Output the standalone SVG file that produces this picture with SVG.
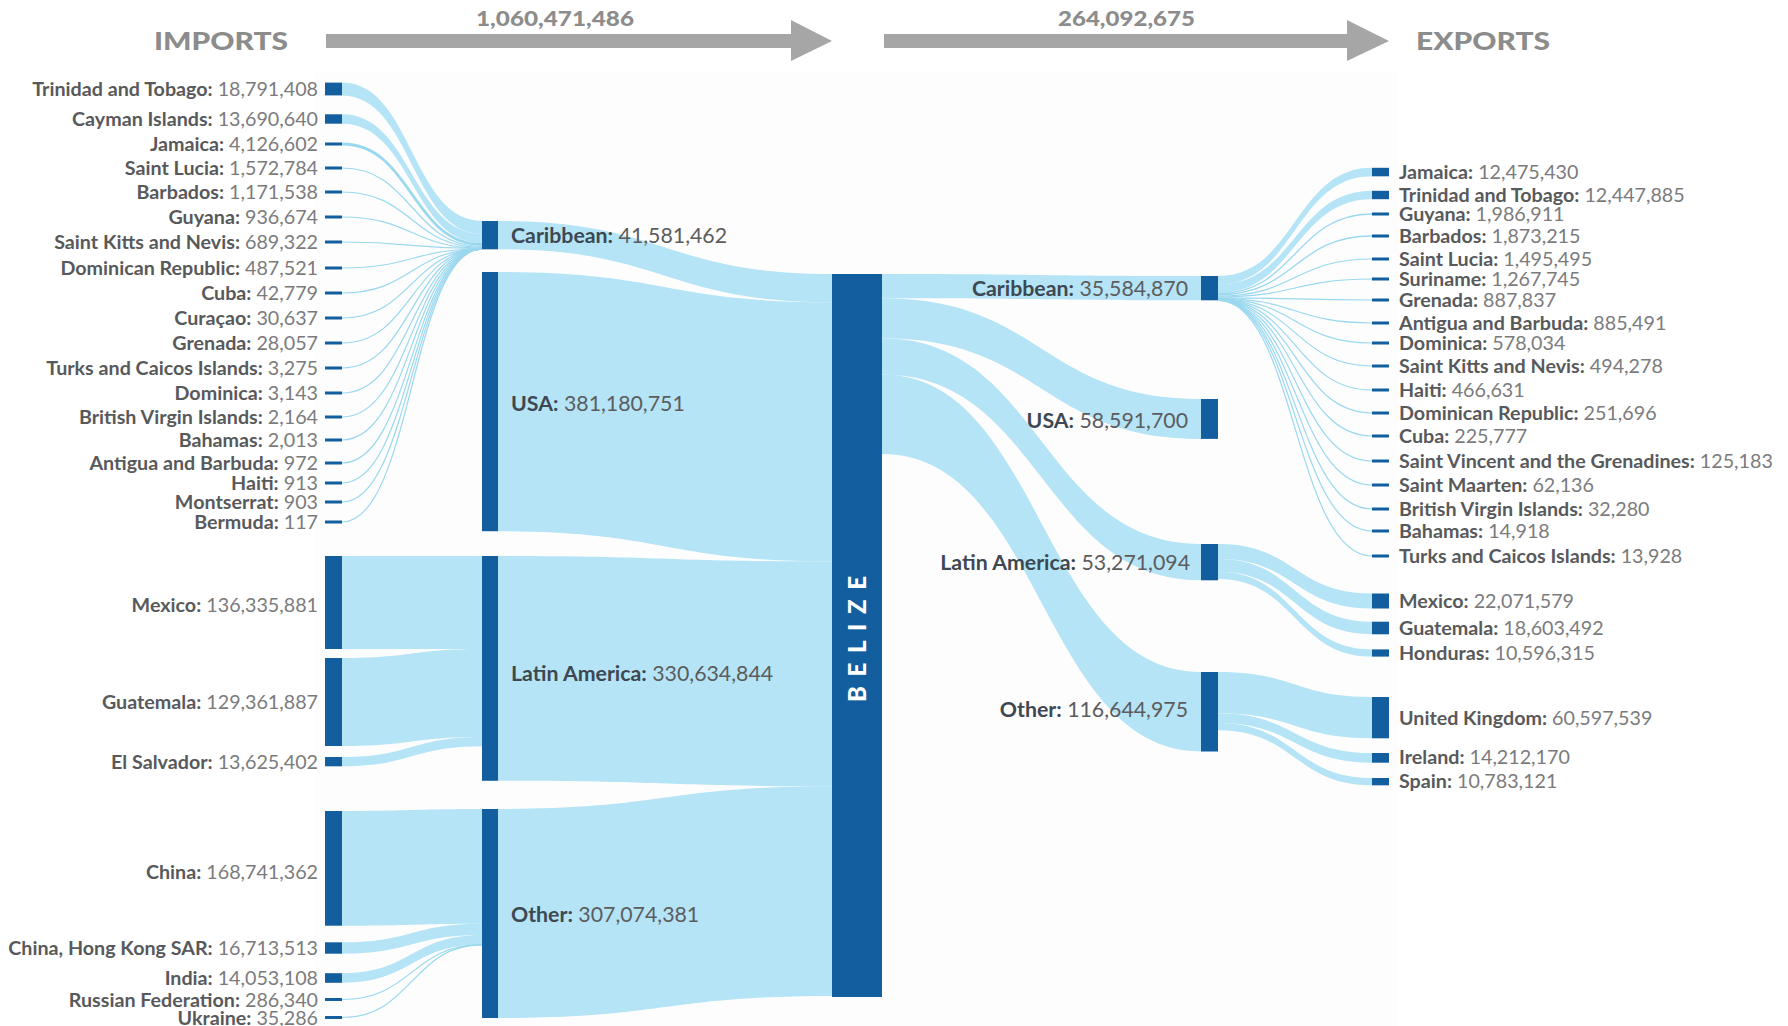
<svg xmlns="http://www.w3.org/2000/svg" width="1788" height="1026" viewBox="0 0 1788 1026">
<style>
.bar{fill:#135e9f}
.flow{fill:#b4e4f5}
.thin{fill:none;stroke:#9ad8ef;stroke-width:1.2}
.hdr{font-family:Lato,"Noto Sans",sans-serif;font-weight:900;fill:#8c8c8c}
.arr{fill:#a6a6a6}
.l{font-family:Lato,"Noto Sans",sans-serif;font-size:19.7px;fill:#7b7b7d;text-anchor:end}
.r{font-family:Lato,"Noto Sans",sans-serif;font-size:19.7px;fill:#7b7b7d;text-anchor:start}
.b{font-weight:700;fill:#58595b}
.m{font-family:Lato,"Noto Sans",sans-serif;font-size:21.3px;fill:#5c5c5e}
.mb{font-weight:700;fill:#3d4852}
.belize{font-family:Lato,"Noto Sans",sans-serif;font-weight:900;font-size:24px;fill:#ffffff}
</style>
<rect x="0" y="0" width="1788" height="1026" fill="#ffffff"/>
<rect x="315" y="72" width="1083" height="954" fill="#fdfdfd"/>

<g id="header">
<text class="hdr" x="154" y="50" font-size="25" textLength="134" lengthAdjust="spacingAndGlyphs">IMPORTS</text>
<polygon class="arr" points="326,34 791,34 791,20 832,41 791,61 791,48 326,48"/>
<text class="hdr" x="476" y="26" font-size="20" textLength="158" lengthAdjust="spacingAndGlyphs">1,060,471,486</text>
<polygon class="arr" points="884,34 1347,34 1347,20 1389,41 1347,61 1347,48 884,48"/>
<text class="hdr" x="1058" y="26" font-size="20" textLength="137" lengthAdjust="spacingAndGlyphs">264,092,675</text>
<text class="hdr" x="1416" y="50" font-size="25" textLength="134" lengthAdjust="spacingAndGlyphs">EXPORTS</text>
</g>

<g id="connectors">
<!-- import countries to Caribbean -->
<path class="flow" d="M342,82.6C412,82.6 412,221 482,221L482,233.8C412,233.8 412,95.4 342,95.4Z"/>
<path class="flow" d="M342,114.3C412,114.3 412,233.8 482,233.8L482,243.1C412,243.1 412,123.7 342,123.7Z"/>
<path class="thin" style="stroke-width:2.8" d="M342,144C412,144 412,244.5 482,244.5"/>
<path class="thin" d="M342,168C412,168 412,246.5 482,246.5"/>
<path class="thin" d="M342,192C412,192 412,247.4 482,247.4"/>
<path class="thin" d="M342,217C412,217 412,248.1 482,248.1"/>
<path class="thin" d="M342,242C412,242 412,248.6 482,248.6"/>
<path class="thin" d="M342,268C412,268 412,249 482,249"/>
<path class="thin" d="M342,293C412,293 412,249.2 482,249.2"/>
<path class="thin" d="M342,318C412,318 412,249.2 482,249.2"/>
<path class="thin" d="M342,343C412,343 412,249.2 482,249.2"/>
<path class="thin" d="M342,368C412,368 412,249.2 482,249.2"/>
<path class="thin" d="M342,393C412,393 412,249.2 482,249.2"/>
<path class="thin" d="M342,417C412,417 412,249.2 482,249.2"/>
<path class="thin" d="M342,440C412,440 412,249.2 482,249.2"/>
<path class="thin" d="M342,463C412,463 412,249.2 482,249.2"/>
<path class="thin" d="M342,483C412,483 412,249.2 482,249.2"/>
<path class="thin" d="M342,502C412,502 412,249.2 482,249.2"/>
<path class="thin" d="M342,522C412,522 412,249.2 482,249.2"/>
<!-- Latin America imports -->
<path class="flow" d="M342,556L482,556L482,649L342,649Z"/>
<path class="flow" d="M342,658C412,658 412,649 482,649L482,737C412,737 412,746 342,746Z"/>
<path class="flow" d="M342,757C412,757 412,737 482,737L482,746.3C412,746.3 412,766.3 342,766.3Z"/>
<!-- Other imports -->
<path class="flow" d="M342,811C412,811 412,809 482,809L482,923.7C412,923.7 412,925.7 342,925.7Z"/>
<path class="flow" d="M342,942.3C412,942.3 412,923.7 482,923.7L482,935.1C412,935.1 412,953.7 342,953.7Z"/>
<path class="flow" d="M342,973.2C412,973.2 412,935.1 482,935.1L482,944.6C412,944.6 412,982.8 342,982.8Z"/>
<path class="thin" d="M342,999.5C412,999.5 412,944.7 482,944.7"/>
<path class="thin" d="M342,1017.5C412,1017.5 412,944.8 482,944.8"/>
<!-- regions to Belize -->
<path class="flow" d="M498,221C665,221 665,274 832,274L832,302.3C665,302.3 665,249.3 498,249.3Z"/>
<path class="flow" d="M498,272C665,272 665,302.3 832,302.3L832,561.5C665,561.5 665,531.2 498,531.2Z"/>
<path class="flow" d="M498,556C665,556 665,561.5 832,561.5L832,786.3C665,786.3 665,780.8 498,780.8Z"/>
<path class="flow" d="M498,809C665,809 665,786.3 832,786.3L832,996C665,996 665,1018 498,1018Z"/>
<!-- Belize to export regions -->
<path class="flow" d="M882,274C1041.5,274 1041.5,276 1201,276L1201,300.3C1041.5,300.3 1041.5,298.3 882,298.3Z"/>
<path class="flow" d="M882,298.3C1041.5,298.3 1041.5,399 1201,399L1201,438.9C1041.5,438.9 1041.5,338.2 882,338.2Z"/>
<path class="flow" d="M882,338.2C1041.5,338.2 1041.5,544 1201,544L1201,580.3C1041.5,580.3 1041.5,374.5 882,374.5Z"/>
<path class="flow" d="M882,374.5C1041.5,374.5 1041.5,672 1201,672L1201,751.5C1041.5,751.5 1041.5,454 882,454Z"/>
<!-- Caribbean exports -->
<path class="flow" d="M1218,276C1295,276 1295,167.8 1372,167.8L1372,176.3C1295,176.3 1295,284.5 1218,284.5Z"/>
<path class="flow" d="M1218,284.5C1295,284.5 1295,190.8 1372,190.8L1372,199.2C1295,199.2 1295,293 1218,293Z"/>
<path class="thin" style="stroke-width:1.35" d="M1218,293.7C1295,293.7 1295,214 1372,214"/>
<path class="thin" style="stroke-width:1.3" d="M1218,294.9C1295,294.9 1295,236 1372,236"/>
<path class="thin" d="M1218,296.1C1295,296.1 1295,259 1372,259"/>
<path class="thin" d="M1218,297C1295,297 1295,279 1372,279"/>
<path class="thin" d="M1218,297.8C1295,297.8 1295,300 1372,300"/>
<path class="thin" d="M1218,298.4C1295,298.4 1295,323 1372,323"/>
<path class="thin" d="M1218,298.9C1295,298.9 1295,343 1372,343"/>
<path class="thin" d="M1218,299.3C1295,299.3 1295,366 1372,366"/>
<path class="thin" d="M1218,299.6C1295,299.6 1295,390 1372,390"/>
<path class="thin" d="M1218,299.8C1295,299.8 1295,413 1372,413"/>
<path class="thin" d="M1218,300C1295,300 1295,436 1372,436"/>
<path class="thin" d="M1218,300.1C1295,300.1 1295,461 1372,461"/>
<path class="thin" d="M1218,300.2C1295,300.2 1295,485 1372,485"/>
<path class="thin" d="M1218,300.2C1295,300.2 1295,509 1372,509"/>
<path class="thin" d="M1218,300.2C1295,300.2 1295,531 1372,531"/>
<path class="thin" d="M1218,300.3C1295,300.3 1295,556 1372,556"/>
<!-- Latin America exports -->
<path class="flow" d="M1218,544C1295,544 1295,593.5 1372,593.5L1372,608.5C1295,608.5 1295,559 1218,559Z"/>
<path class="flow" d="M1218,559C1295,559 1295,621.7 1372,621.7L1372,634.3C1295,634.3 1295,571.7 1218,571.7Z"/>
<path class="flow" d="M1218,571.7C1295,571.7 1295,649.4 1372,649.4L1372,656.6C1295,656.6 1295,578.9 1218,578.9Z"/>
<!-- Other exports -->
<path class="flow" d="M1218,672C1295,672 1295,697 1372,697L1372,738.3C1295,738.3 1295,713.3 1218,713.3Z"/>
<path class="flow" d="M1218,713.3C1295,713.3 1295,753 1372,753L1372,762.7C1295,762.7 1295,723 1218,723Z"/>
<path class="flow" d="M1218,723C1295,723 1295,778 1372,778L1372,785.3C1295,785.3 1295,730.3 1218,730.3Z"/>
</g>

<!-- import countries -->
<g id="imp-trinidad"><rect class="bar" x="325" y="82.6" width="17" height="12.8"/><text class="l" x="318" y="96"><tspan class="b">Trinidad and Tobago:</tspan> 18,791,408</text></g>
<g id="imp-cayman"><rect class="bar" x="325" y="114.3" width="17" height="9.4"/><text class="l" x="318" y="126"><tspan class="b">Cayman Islands:</tspan> 13,690,640</text></g>
<g id="imp-jamaica"><rect class="bar" x="325" y="142.5" width="17" height="3"/><text class="l" x="318" y="151"><tspan class="b">Jamaica:</tspan> 4,126,602</text></g>
<g id="imp-saintlucia"><rect class="bar" x="325" y="166.5" width="17" height="3"/><text class="l" x="318" y="175"><tspan class="b">Saint Lucia:</tspan> 1,572,784</text></g>
<g id="imp-barbados"><rect class="bar" x="325" y="190.5" width="17" height="3"/><text class="l" x="318" y="199"><tspan class="b">Barbados:</tspan> 1,171,538</text></g>
<g id="imp-guyana"><rect class="bar" x="325" y="215.5" width="17" height="3"/><text class="l" x="318" y="224"><tspan class="b">Guyana:</tspan> 936,674</text></g>
<g id="imp-skn"><rect class="bar" x="325" y="240.5" width="17" height="3"/><text class="l" x="318" y="249"><tspan class="b">Saint Kitts and Nevis:</tspan> 689,322</text></g>
<g id="imp-dr"><rect class="bar" x="325" y="266.5" width="17" height="3"/><text class="l" x="318" y="275"><tspan class="b">Dominican Republic:</tspan> 487,521</text></g>
<g id="imp-cuba"><rect class="bar" x="325" y="291.5" width="17" height="3"/><text class="l" x="318" y="300"><tspan class="b">Cuba:</tspan> 42,779</text></g>
<g id="imp-curacao"><rect class="bar" x="325" y="316.5" width="17" height="3"/><text class="l" x="318" y="325"><tspan class="b">Curaçao:</tspan> 30,637</text></g>
<g id="imp-grenada"><rect class="bar" x="325" y="341.5" width="17" height="3"/><text class="l" x="318" y="350"><tspan class="b">Grenada:</tspan> 28,057</text></g>
<g id="imp-turks"><rect class="bar" x="325" y="366.5" width="17" height="3"/><text class="l" x="318" y="375"><tspan class="b">Turks and Caicos Islands:</tspan> 3,275</text></g>
<g id="imp-dominica"><rect class="bar" x="325" y="391.5" width="17" height="3"/><text class="l" x="318" y="400"><tspan class="b">Dominica:</tspan> 3,143</text></g>
<g id="imp-bvi"><rect class="bar" x="325" y="415.5" width="17" height="3"/><text class="l" x="318" y="424"><tspan class="b">British Virgin Islands:</tspan> 2,164</text></g>
<g id="imp-bahamas"><rect class="bar" x="325" y="438.5" width="17" height="3"/><text class="l" x="318" y="447"><tspan class="b">Bahamas:</tspan> 2,013</text></g>
<g id="imp-antigua"><rect class="bar" x="325" y="461.5" width="17" height="3"/><text class="l" x="318" y="470"><tspan class="b">Antigua and Barbuda:</tspan> 972</text></g>
<g id="imp-haiti"><rect class="bar" x="325" y="481.5" width="17" height="3"/><text class="l" x="318" y="490"><tspan class="b">Haiti:</tspan> 913</text></g>
<g id="imp-montserrat"><rect class="bar" x="325" y="500.5" width="17" height="3"/><text class="l" x="318" y="509"><tspan class="b">Montserrat:</tspan> 903</text></g>
<g id="imp-bermuda"><rect class="bar" x="325" y="520.5" width="17" height="3"/><text class="l" x="318" y="529"><tspan class="b">Bermuda:</tspan> 117</text></g>
<g id="imp-mexico"><rect class="bar" x="325" y="556" width="17" height="93"/><text class="l" x="318" y="612"><tspan class="b">Mexico:</tspan> 136,335,881</text></g>
<g id="imp-guatemala"><rect class="bar" x="325" y="658" width="17" height="88"/><text class="l" x="318" y="709"><tspan class="b">Guatemala:</tspan> 129,361,887</text></g>
<g id="imp-elsalvador"><rect class="bar" x="325" y="757" width="17" height="9.3"/><text class="l" x="318" y="769"><tspan class="b">El Salvador:</tspan> 13,625,402</text></g>
<g id="imp-china"><rect class="bar" x="325" y="811" width="17" height="114.7"/><text class="l" x="318" y="879"><tspan class="b">China:</tspan> 168,741,362</text></g>
<g id="imp-hongkong"><rect class="bar" x="325" y="942.3" width="17" height="11.4"/><text class="l" x="318" y="955"><tspan class="b">China, Hong Kong SAR:</tspan> 16,713,513</text></g>
<g id="imp-india"><rect class="bar" x="325" y="973.2" width="17" height="9.6"/><text class="l" x="318" y="985"><tspan class="b">India:</tspan> 14,053,108</text></g>
<g id="imp-russia"><rect class="bar" x="325" y="998" width="17" height="3"/><text class="l" x="318" y="1006.5"><tspan class="b">Russian Federation:</tspan> 286,340</text></g>
<g id="imp-ukraine"><rect class="bar" x="325" y="1016" width="17" height="3"/><text class="l" x="318" y="1024.5"><tspan class="b">Ukraine:</tspan> 35,286</text></g>

<!-- import regions -->
<g id="imp-region-caribbean"><rect class="bar" x="482" y="221" width="16" height="28.3"/><text class="m" x="511" y="242.5"><tspan class="mb">Caribbean:</tspan> 41,581,462</text></g>
<g id="imp-region-usa"><rect class="bar" x="482" y="272" width="16" height="259.2"/><text class="m" x="511" y="410.5"><tspan class="mb">USA:</tspan> 381,180,751</text></g>
<g id="imp-region-latam"><rect class="bar" x="482" y="556" width="16" height="224.8"/><text class="m" x="511" y="680.5"><tspan class="mb">Latin America:</tspan> 330,634,844</text></g>
<g id="imp-region-other"><rect class="bar" x="482" y="809" width="16" height="209"/><text class="m" x="511" y="921.5"><tspan class="mb">Other:</tspan> 307,074,381</text></g>

<!-- Belize -->
<g id="belize"><rect class="bar" x="832" y="274" width="50" height="723"/><text class="belize" transform="translate(866,639) rotate(-90)" text-anchor="middle" textLength="126" lengthAdjust="spacing">BELIZE</text></g>

<!-- export regions -->
<g id="exp-region-caribbean"><rect class="bar" x="1201" y="276" width="17" height="24.3"/><text class="m" x="1188" y="295.5" text-anchor="end"><tspan class="mb">Caribbean:</tspan> 35,584,870</text></g>
<g id="exp-region-usa"><rect class="bar" x="1201" y="399" width="17" height="39.9"/><text class="m" x="1188" y="427.5" text-anchor="end"><tspan class="mb">USA:</tspan> 58,591,700</text></g>
<g id="exp-region-latam"><rect class="bar" x="1201" y="544" width="17" height="36.3"/><text class="m" x="1190" y="570" text-anchor="end"><tspan class="mb">Latin America:</tspan> 53,271,094</text></g>
<g id="exp-region-other"><rect class="bar" x="1201" y="672" width="17" height="79.5"/><text class="m" x="1188" y="717" text-anchor="end"><tspan class="mb">Other:</tspan> 116,644,975</text></g>

<!-- export countries -->
<g id="exp-jamaica"><rect class="bar" x="1372" y="167.8" width="17" height="8.5"/><text class="r" x="1399" y="179"><tspan class="b">Jamaica:</tspan> 12,475,430</text></g>
<g id="exp-trinidad"><rect class="bar" x="1372" y="190.8" width="17" height="8.4"/><text class="r" x="1399" y="202"><tspan class="b">Trinidad and Tobago:</tspan> 12,447,885</text></g>
<g id="exp-guyana"><rect class="bar" x="1372" y="212.5" width="17" height="3"/><text class="r" x="1399" y="221"><tspan class="b">Guyana:</tspan> 1,986,911</text></g>
<g id="exp-barbados"><rect class="bar" x="1372" y="234.5" width="17" height="3"/><text class="r" x="1399" y="243"><tspan class="b">Barbados:</tspan> 1,873,215</text></g>
<g id="exp-saintlucia"><rect class="bar" x="1372" y="257.5" width="17" height="3"/><text class="r" x="1399" y="266"><tspan class="b">Saint Lucia:</tspan> 1,495,495</text></g>
<g id="exp-suriname"><rect class="bar" x="1372" y="277.5" width="17" height="3"/><text class="r" x="1399" y="286"><tspan class="b">Suriname:</tspan> 1,267,745</text></g>
<g id="exp-grenada"><rect class="bar" x="1372" y="298.5" width="17" height="3"/><text class="r" x="1399" y="307"><tspan class="b">Grenada:</tspan> 887,837</text></g>
<g id="exp-antigua"><rect class="bar" x="1372" y="321.5" width="17" height="3"/><text class="r" x="1399" y="330"><tspan class="b">Antigua and Barbuda:</tspan> 885,491</text></g>
<g id="exp-dominica"><rect class="bar" x="1372" y="341.5" width="17" height="3"/><text class="r" x="1399" y="350"><tspan class="b">Dominica:</tspan> 578,034</text></g>
<g id="exp-skn"><rect class="bar" x="1372" y="364.5" width="17" height="3"/><text class="r" x="1399" y="373"><tspan class="b">Saint Kitts and Nevis:</tspan> 494,278</text></g>
<g id="exp-haiti"><rect class="bar" x="1372" y="388.5" width="17" height="3"/><text class="r" x="1399" y="397"><tspan class="b">Haiti:</tspan> 466,631</text></g>
<g id="exp-dr"><rect class="bar" x="1372" y="411.5" width="17" height="3"/><text class="r" x="1399" y="420"><tspan class="b">Dominican Republic:</tspan> 251,696</text></g>
<g id="exp-cuba"><rect class="bar" x="1372" y="434.5" width="17" height="3"/><text class="r" x="1399" y="443"><tspan class="b">Cuba:</tspan> 225,777</text></g>
<g id="exp-svg"><rect class="bar" x="1372" y="459.5" width="17" height="3"/><text class="r" x="1399" y="468"><tspan class="b">Saint Vincent and the Grenadines:</tspan> 125,183</text></g>
<g id="exp-saintmaarten"><rect class="bar" x="1372" y="483.5" width="17" height="3"/><text class="r" x="1399" y="492"><tspan class="b">Saint Maarten:</tspan> 62,136</text></g>
<g id="exp-bvi"><rect class="bar" x="1372" y="507.5" width="17" height="3"/><text class="r" x="1399" y="516"><tspan class="b">British Virgin Islands:</tspan> 32,280</text></g>
<g id="exp-bahamas"><rect class="bar" x="1372" y="529.5" width="17" height="3"/><text class="r" x="1399" y="538"><tspan class="b">Bahamas:</tspan> 14,918</text></g>
<g id="exp-turks"><rect class="bar" x="1372" y="554.5" width="17" height="3"/><text class="r" x="1399" y="563"><tspan class="b">Turks and Caicos Islands:</tspan> 13,928</text></g>
<g id="exp-mexico"><rect class="bar" x="1372" y="593.5" width="17" height="15"/><text class="r" x="1399" y="608"><tspan class="b">Mexico:</tspan> 22,071,579</text></g>
<g id="exp-guatemala"><rect class="bar" x="1372" y="621.7" width="17" height="12.6"/><text class="r" x="1399" y="635"><tspan class="b">Guatemala:</tspan> 18,603,492</text></g>
<g id="exp-honduras"><rect class="bar" x="1372" y="649.4" width="17" height="7.2"/><text class="r" x="1399" y="660"><tspan class="b">Honduras:</tspan> 10,596,315</text></g>
<g id="exp-uk"><rect class="bar" x="1372" y="697" width="17" height="41.3"/><text class="r" x="1399" y="725"><tspan class="b">United Kingdom:</tspan> 60,597,539</text></g>
<g id="exp-ireland"><rect class="bar" x="1372" y="753" width="17" height="9.7"/><text class="r" x="1399" y="764"><tspan class="b">Ireland:</tspan> 14,212,170</text></g>
<g id="exp-spain"><rect class="bar" x="1372" y="778" width="17" height="7.3"/><text class="r" x="1399" y="788"><tspan class="b">Spain:</tspan> 10,783,121</text></g>
</svg>
